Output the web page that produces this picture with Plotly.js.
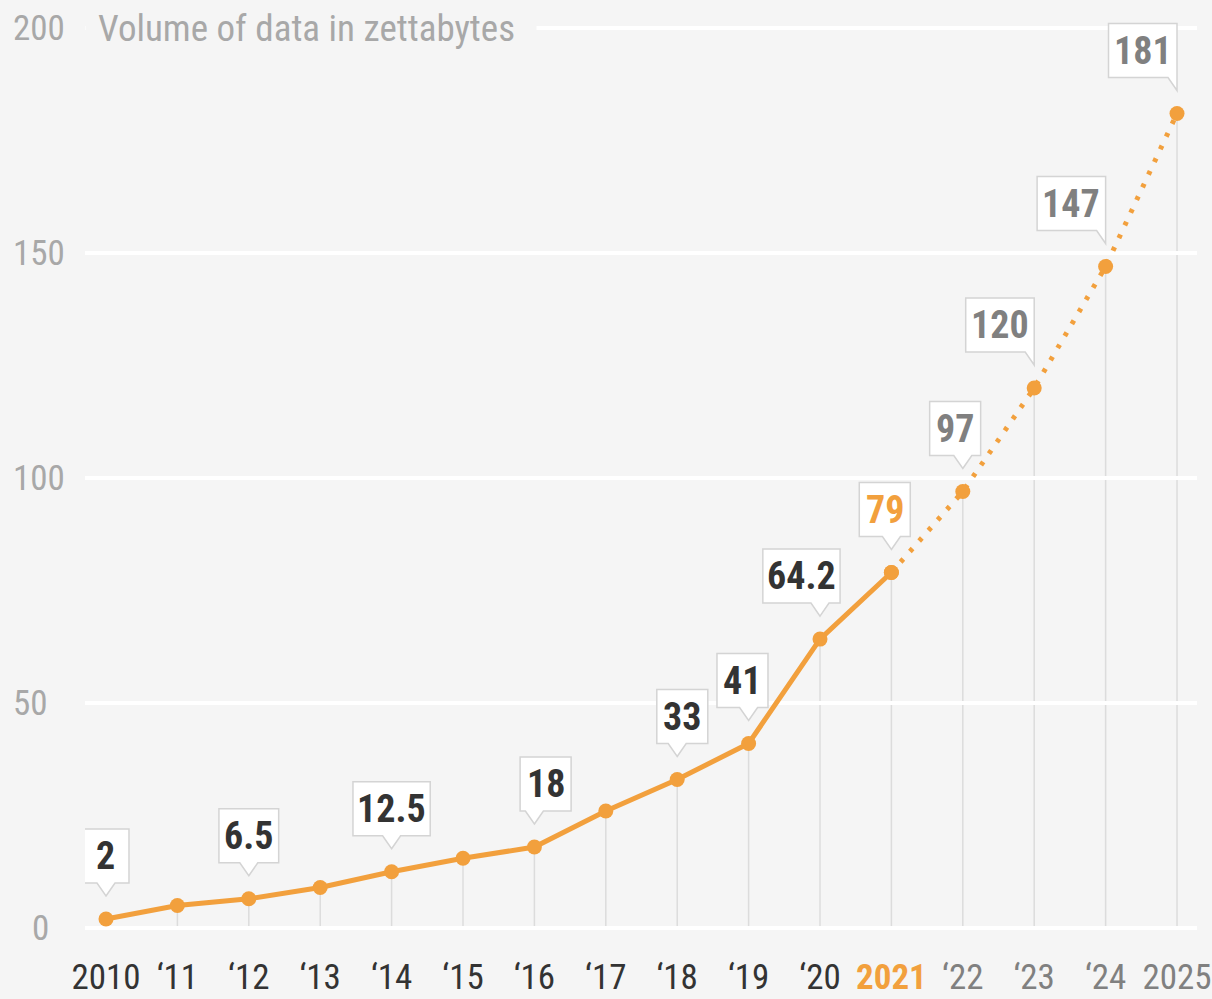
<!DOCTYPE html>
<html>
<head>
    <script src="https://cdn.plot.ly/plotly-3.0.1.min.js"></script>
    <style>
        body { margin: 0; background: #f5f5f5; }
    </style>
</head>
<body>
    <div id="myDiv" style="width: 1212px; height: 999px;"></div>
    <script>
        // data
        var years = [2010, 2011, 2012, 2013, 2014, 2015, 2016, 2017, 2018, 2019, 2020, 2021, 2022, 2023, 2024, 2025];
        var tickLabels = ['2010', '\u201811', '\u201812', '\u201813', '\u201814', '\u201815', '\u201816', '\u201817',
                          '\u201818', '\u201819', '\u201820', '2021', '\u201822', '\u201823', '\u201824', '2025'];
        var volume = [2, 5, 6.5, 9, 12.5, 15.5, 18, 26, 33, 41, 64.2, 79, 97, 120, 147, 181];
        var lastActualYear = 2021;
        var labelYears = [2010, 2012, 2014, 2016, 2018, 2019, 2020, 2021, 2022, 2023, 2024, 2025];
        var yTicks = [0, 50, 100, 150, 200];
        var chartTitle = 'Volume of data in zettabytes';

        // where the tail of each callout sits along its box (0 = left edge, 1 = right edge)
        var tailAt = [0.5, 0.5, 0.5, 0.28, 0.4, 0.62, 0.74, 0.63, 0.65, 1, 1, 1];

        var orange = '#F2A03D';
        var dark = '#333333';
        var grey = '#808080';
        var light = '#a8a8a8';
        var bg = '#f5f5f5';
        var font = 'Roboto Condensed, Liberation Sans Narrow, Arial Narrow, DejaVu Sans Condensed, sans-serif';

        function colorFor(year) {
            if (year === lastActualYear) return orange;
            return year < lastActualYear ? dark : grey;
        }

        var actualX = [], actualY = [], forecastX = [], forecastY = [];
        for (var i = 0; i < years.length; i++) {
            if (years[i] <= lastActualYear) { actualX.push(years[i]); actualY.push(volume[i]); }
            if (years[i] >= lastActualYear) { forecastX.push(years[i]); forecastY.push(volume[i]); }
        }

        var data = [{
            x: forecastX, y: forecastY,
            type: 'scatter', mode: 'lines+markers',
            line: { color: orange, width: 5, dash: '4px,10px' },
            marker: { color: orange, size: 15 },
            hoverinfo: 'skip'
        }, {
            x: actualX, y: actualY,
            type: 'scatter', mode: 'lines+markers',
            line: { color: orange, width: 5 },
            marker: { color: orange, size: 15 },
            hoverinfo: 'skip'
        }];

        var shapes = [];
        var annotations = [];

        // thin drop lines from each point to the baseline
        for (var i = 0; i < years.length; i++) {
            shapes.push({
                type: 'line', layer: 'below',
                x0: years[i], x1: years[i], y0: 0, y1: volume[i],
                line: { color: '#dcdcdc', width: 1.5 }
            });
        }

        // callout bubbles: box + tail drawn in pixels, anchored at the point
        var gap = 23, tailH = 13, boxH = 54, tailW = 9;
        for (var k = 0; k < labelYears.length; k++) {
            var idx = years.indexOf(labelYears[k]);
            var txt = String(volume[idx]);
            var n = 0;
            for (var c = 0; c < txt.length; c++) n += (txt[c] === '.') ? 0.5 : 1;
            var w = Math.max(46, 16 + 17.5 * n);
            var L = -tailAt[k] * w, R = L + w;
            var b = gap + tailH, t = b + boxH;
            var a = Math.max(L, -tailW), cc = Math.min(R, tailW);
            var path = 'M0,' + gap + ' L' + cc + ',' + b + ' L' + R + ',' + b + ' L' + R + ',' + t +
                       ' L' + L + ',' + t + ' L' + L + ',' + b + ' L' + a + ',' + b + ' Z';
            shapes.push({
                type: 'path', layer: 'above',
                xsizemode: 'pixel', ysizemode: 'pixel',
                xanchor: years[idx], yanchor: volume[idx],
                path: path,
                fillcolor: '#ffffff',
                line: { color: '#d4d4d4', width: 1.5 }
            });
            annotations.push({
                x: years[idx], y: volume[idx],
                xshift: (L + R) / 2, yshift: (b + t) / 2,
                xanchor: 'center', yanchor: 'middle',
                text: '<b>' + txt + '</b>', showarrow: false,
                font: { family: font, size: 38, color: colorFor(years[idx]) }
            });
        }

        // y tick labels, left aligned like the original
        for (var j = 0; j < yTicks.length; j++) {
            annotations.push({
                xref: 'paper', x: 0, xanchor: 'left', xshift: yTicks[j] === 0 ? -55 : -74,
                y: yTicks[j], yanchor: 'middle',
                text: String(yTicks[j]), showarrow: false,
                font: { family: font, size: 35, color: light }
            });
        }

        // title sits on the top grid line
        annotations.push({
            xref: 'paper', x: 0, xanchor: 'left',
            y: 200, yanchor: 'middle',
            text: chartTitle, showarrow: false,
            width: 426, align: 'left', borderpad: 12,
            bgcolor: bg,
            font: { family: font, size: 37, color: light }
        });

        var ticktext = [];
        for (var i = 0; i < years.length; i++) {
            var s = tickLabels[i];
            if (years[i] === lastActualYear) s = '<b>' + s + '</b>';
            ticktext.push('<span style="fill:' + colorFor(years[i]) + '">' + s + '</span>');
        }

        var layout = {
            width: 1212,
            height: 999,
            paper_bgcolor: bg,
            plot_bgcolor: 'rgba(0,0,0,0)',
            showlegend: false,
            margin: { l: 85, r: 15, t: 10, b: 59 },
            font: { family: font },
            xaxis: {
                range: [2009.706, 2025.28],
                tickvals: years,
                ticktext: ticktext,
                showgrid: false,
                zeroline: false,
                ticks: '',
                ticklabelstandoff: 13,
                tickfont: { family: font, size: 35, color: dark }
            },
            yaxis: {
                range: [-2.667, 204],
                tickvals: yTicks,
                showticklabels: false,
                gridcolor: '#ffffff',
                gridwidth: 4,
                zeroline: false
            },
            shapes: shapes,
            annotations: annotations
        };

        var config = {
            displayModeBar: false,
            staticPlot: true
        };

        Plotly.newPlot('myDiv', data, layout, config);
    </script>
</body>
</html>
